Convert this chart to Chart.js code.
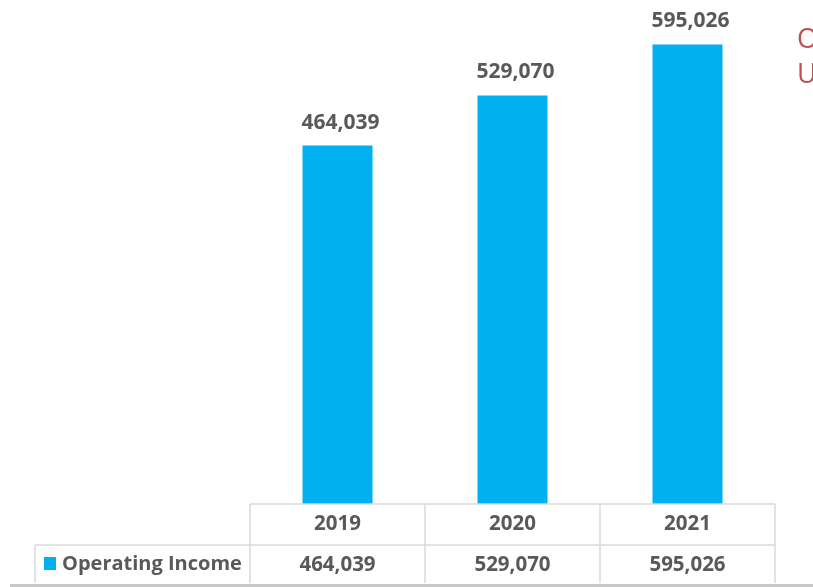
<!DOCTYPE html>
<html>
<head>
<meta charset="utf-8">
<script src="https://cdn.jsdelivr.net/npm/chart.js@4.4.1/dist/chart.umd.min.js"></script>
<style>
html,body{margin:0;padding:0;background:#fff;}
#wrap{width:813px;height:587px;position:relative;}
</style>
</head>
<body>
<div id="wrap"><canvas id="grafico" width="813" height="587"></canvas></div>
<script>

const anos=["2019","2020","2021"];
const serieNome="Operating Income";
const valores=[464039,529070,595026];

const corBarra="#00b0f0";
const corTexto="#595959";
const corLinha="#d9d9d9";
const fonte="'Open Sans'";

function fmt(v){
return v.toLocaleString("en-US");
}

/* rotulos acima das barras */
const rotulos={
id:"rotulos",
afterDatasetsDraw(chart){
const ctx=chart.ctx;
const meta=chart.getDatasetMeta(0);
ctx.save();
ctx.font="bold 21px "+fonte;
ctx.fillStyle=corTexto;
ctx.textAlign="center";
ctx.textBaseline="alphabetic";
meta.data.forEach((bar,i)=>{
ctx.fillText(fmt(valores[i]),bar.x+3,bar.y-17);
});
ctx.restore();
}
};

/* tabela de dados */
const tabela={
id:"tabela",
afterDraw(chart){
const ctx=chart.ctx;
const xs=chart.scales.x;
const area=chart.chartArea;
const y0=area.bottom, y1=545, y2=583;
const passo=xs.getPixelForValue(1)-xs.getPixelForValue(0);
const esq=xs.getPixelForValue(0)-passo/2;
const dir=xs.getPixelForValue(anos.length-1)+passo/2;
ctx.save();
ctx.strokeStyle=corLinha;
ctx.lineWidth=1.5;
ctx.beginPath();
ctx.moveTo(esq,y0);ctx.lineTo(dir,y0);
ctx.moveTo(35,y1);ctx.lineTo(dir,y1);
ctx.moveTo(35,y1);ctx.lineTo(35,y2);
for(let i=0;i<=anos.length;i++){
const x=esq+i*passo;
ctx.moveTo(x,y0);ctx.lineTo(x,y2);
}
ctx.stroke();

/* linha do rodape */
ctx.fillStyle="#c8c8c8";
ctx.fillRect(10,584,803,3);

ctx.font="bold 20.5px "+fonte;
ctx.fillStyle=corTexto;
ctx.textAlign="center";
ctx.textBaseline="middle";
anos.forEach((a,i)=>{
const x=xs.getPixelForValue(i);
ctx.fillText(a,x,(y0+y1)/2);
ctx.fillText(fmt(valores[i]),x,(y1+y2)/2+1);
});

ctx.fillStyle=corBarra;
ctx.fillRect(44,557,12,13);
ctx.fillStyle=corTexto;
ctx.textAlign="left";
ctx.font="bold 20px "+fonte;
ctx.fillText(serieNome,62,(y1+y2)/2);

/* texto vermelho cortado */
ctx.fillStyle="#c0504d";
ctx.font="27px "+fonte;
ctx.textBaseline="alphabetic";
ctx.fillText("O",797,48);
ctx.fillText("U",797,83);
ctx.restore();
}
};

new Chart(document.getElementById("grafico"),{
type:"bar",
data:{
labels:anos,
datasets:[{
label:serieNome,
data:valores,
backgroundColor:corBarra,
barPercentage:0.4,
categoryPercentage:1
}]
},
options:{
responsive:false,
animation:false,
layout:{padding:{left:250,right:38,top:2,bottom:83}},
plugins:{legend:{display:false},tooltip:{enabled:false}},
scales:{
x:{display:false},
y:{display:false,min:0,max:650000}
}
},
plugins:[rotulos,tabela]
});

</script>
</body>
</html>
